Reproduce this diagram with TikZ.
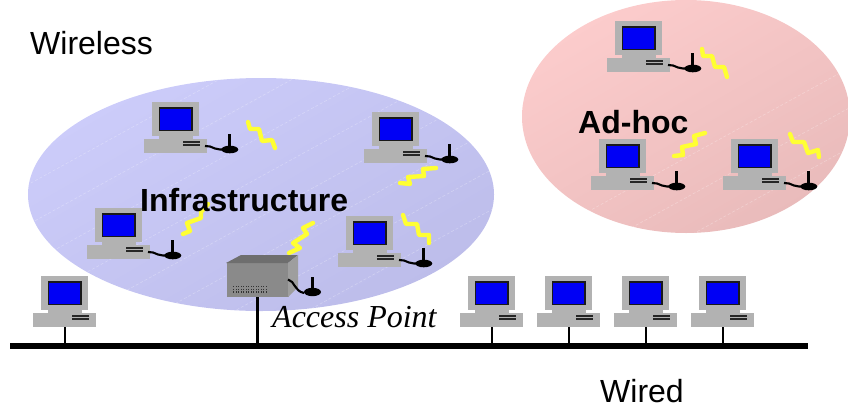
\documentclass[tikz,border=0pt]{standalone}
\usepackage{fontspec}
\setmainfont{Liberation Sans}
\newfontfamily\serifit[Ligatures=TeX]{Liberation Serif}
\definecolor{pcgray}{HTML}{B2B2B2}
\definecolor{screenblue}{HTML}{0000F5}
\definecolor{boltyellow}{HTML}{FFFF33}
\definecolor{bluelight}{HTML}{CCCCFA}
\definecolor{bluedark}{HTML}{BDBDEA}
\definecolor{pinklight}{HTML}{FCCCCC}
\definecolor{pinkdark}{HTML}{E9BBBB}
\tikzset{
  x=1pt,y=-1pt,
  pcbody/.style={fill=pcgray,draw=none},
  bolt/.style={draw=boltyellow,line width=4.4pt,line cap=round,line join=round},
  wire/.style={draw=black,line width=2.1pt,line join=round},
  stub/.style={draw=black,line width=2.3pt},
  sheen/.style={draw=white,opacity=.28,line width=.6pt,densely dashed},
  basebox/.style={pcbody,rectangle,inner sep=0pt,minimum width=63pt,minimum height=14pt,anchor=south west},
  label/.style={inner sep=0pt,font=\fontsize{32}{36}\selectfont},
  boldlabel/.style={inner sep=0pt,font=\fontsize{32}{36}\selectfont\bfseries},
  pics/pc/.style={code={
    \fill[pcgray] (8,-51) rectangle (55,-17);
    \fill[pcgray] (15,-17) rectangle (49,-14);
    \node[basebox] (base) at (0,0) {};
    \draw[fill=screenblue,draw=black!90,line width=1.8pt] (15.5,-45) rectangle (48,-22.5);
    \draw[black!85,line width=1.5pt] (39,-11.2) -- (56,-11.2) (39,-8.2) -- (56,-8.2);
  }},
  pics/wpc/.style={code={
    \pic {pc};
    \draw[wire] (61,-7) -- (66,-6.5) -- (71,-4.5) -- (76,-3.5) -- (80,-3.5);
    \draw[black,line width=3.2pt] (85.5,-19) -- (85.5,-3);
    \fill[black] (85.8,-3.5) ellipse [x radius=8.5pt,y radius=3.8pt];
  }},
}
\begin{document}
\begin{tikzpicture}
\useasboundingbox (0,0) rectangle (848,407);
% cells
\shade[left color=bluelight,right color=bluedark,shading angle=30]
  (261,194.5) ellipse [x radius=233pt,y radius=116.5pt];
\begin{scope}
  \clip (261,194.5) ellipse [x radius=233pt,y radius=116.5pt];
  \foreach \c in {40,80,...,640} \draw[sheen] (0,\c) -- (600,\c-330);
\end{scope}
\shade[left color=pinklight,right color=pinkdark,shading angle=30]
  (686,116.5) ellipse [x radius=164pt,y radius=116.5pt];
\begin{scope}
  \clip (686,116.5) ellipse [x radius=164pt,y radius=116.5pt];
  \foreach \c in {260,300,...,800} \draw[sheen] (500,\c) -- (860,\c-198);
\end{scope}
% bus
\node[fill=black,inner sep=0pt,minimum width=798pt,minimum height=6pt] (bus) at (409,346) {};
% radio links
\draw[bolt] (248,122) -- (250,129) -- (259,129) -- (262,141) -- (272,140) -- (275,148);
\draw[bolt] (436,168) -- (423,169) -- (424,176) -- (408,177) -- (410,184) -- (400,183);
\draw[bolt] (403,215) -- (406,224) -- (417,224) -- (419,235) -- (429,235) -- (429,243);
\draw[bolt] (208,204) -- (201,212) -- (201,218) -- (187,223) -- (190,231) -- (183,234);
\draw[bolt] (313,223) -- (303,228) -- (307,234) -- (293,243) -- (300,248) -- (289,253);
\draw[bolt] (702,49) -- (703,56) -- (712,56) -- (715,67) -- (724,67) -- (727,77);
\draw[bolt] (705,133) -- (694,136) -- (696,144) -- (682,147) -- (683,155) -- (674,156);
\draw[bolt] (790,134) -- (793,142) -- (804,142) -- (808,153) -- (818,150) -- (819,157);
% stations
\pic (m1) at (144,153) {wpc};
\pic (m2) at (364,163) {wpc};
\pic (m3) at (87,259) {wpc};
\pic (m4) at (338,267) {wpc};
\pic (h1) at (607,72) {wpc};
\pic (h2) at (591,190) {wpc};
\pic (h3) at (723,190) {wpc};
\pic (w1) at (33,327) {pc};
\pic (w2) at (460,327) {pc};
\pic (w3) at (537,327) {pc};
\pic (w4) at (614,327) {pc};
\pic (w5) at (691,327) {pc};
% access point
\node[rectangle,fill=black!46,inner sep=0pt,minimum width=62pt,minimum height=34pt] (ap) at (257.5,280) {};
\fill[black!57] (226,263) -- (241,255) -- (298,255) -- (288,263) -- cycle;
\fill[black!38] (288,263) -- (298,255) -- (298,287) -- (288,297) -- cycle;
\foreach \y in {286,288.6,291.2} \foreach \x in {233,235.5,...,266}
  \fill[black!80] (\x,\y) rectangle +(1.4,1.4);
\draw[wire] (288,279.5) .. controls (295,281) and (294,291) .. (304,293);
\draw[black,line width=3.2pt] (312.5,277) -- (312.5,292);
\fill[black] (312.5,292) ellipse [x radius=8.5pt,y radius=4.2pt];
% drops
\foreach \n in {w1,w2,w3,w4,w5} \draw[stub] (\n base.south) -- (\n base.south |- bus.north);
\draw[stub] (ap.south) -- (ap.south |- bus.north);
% labels
\node[label,anchor=base west] (lwireless) at (30,54) {Wireless};
\node[label,anchor=base west] (lwired) at (600,402) {Wired};
\node[boldlabel,anchor=base west] (linfra) at (140,211) {Infrastructure};
\node[boldlabel,anchor=base west] (ladhoc) at (578,133) {Ad-hoc};
\node[inner sep=0pt,anchor=base west,font=\fontsize{32}{36}\selectfont\serifit\itshape] (lap) at (272,327) {Access Point};
\end{tikzpicture}
\end{document}
